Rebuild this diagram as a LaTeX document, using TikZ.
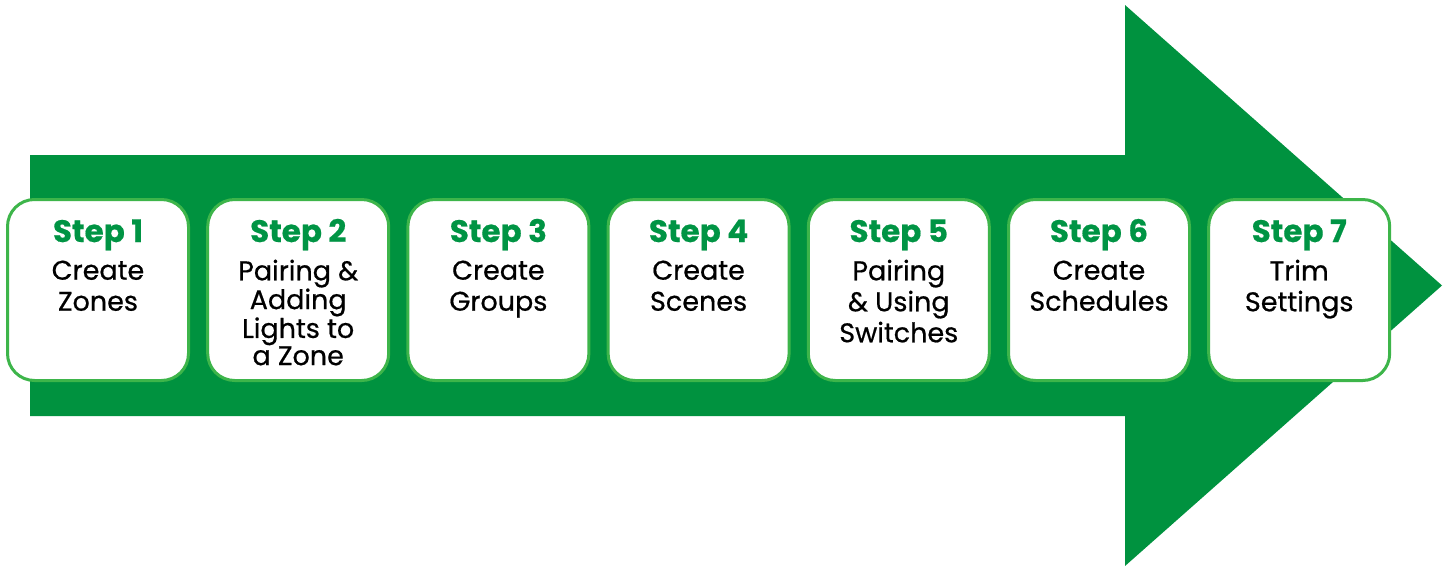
\documentclass[tikz,border=0pt]{standalone}
\usepackage{fontspec}
\setmainfont{Poppins}
\newfontfamily\bodyfont[FakeBold=0.6]{Poppins}
\newfontfamily\headfont[FakeBold=0.5]{Poppins Bold}
\definecolor{arrowgreen}{HTML}{00923F}
\definecolor{bordergreen}{HTML}{3DB54A}
\definecolor{stepgreen}{HTML}{009444}
\tikzset{
  stepbox/.style={draw=bordergreen, line width=3pt, fill=white, rounded corners=27pt,
    minimum width=181pt, minimum height=181pt, inner sep=0pt},
  stephead/.style={anchor=base, text=stepgreen, font=\headfont\fontsize{31}{31}\selectfont, inner sep=0pt},
  stepbody/.style={anchor=north, align=center, text=black, inner sep=0pt},
}
\begin{document}
\begin{tikzpicture}[x=1pt,y=-1pt]
\useasboundingbox (0,0) rectangle (1448,565);
\fill[arrowgreen] (30,155) -- (1125,155) -- (1125,5) -- (1442,285.5) -- (1125,566) -- (1125,416) -- (30,416) -- cycle;
\foreach \i/\h/\b/\s in {1/Step 1/Create\\Zones/31,
  2/Step 2/Pairing \&\\Adding\\Lights to\\a Zone/27.2,
  3/Step 3/Create\\Groups/31,
  4/Step 4/Create\\Scenes/31,
  5/Step 5/Pairing\\\& Using\\Switches/31,
  6/Step 6/Create\\Schedules/31,
  7/Step 7/Trim\\Settings/31}{
  \node[stepbox] (b\i) at ({98+200.2*(\i-1)},290) {};
  \node[stephead] (h\i) at ([yshift=-44pt]b\i.north) {\h};
  \node[stepbody, font=\bodyfont\fontsize{27}{\s}\selectfont] (t\i) at ([yshift=-61.5pt]b\i.north) {\rule{0pt}{20pt}\b};
}
\end{tikzpicture}
\end{document}
